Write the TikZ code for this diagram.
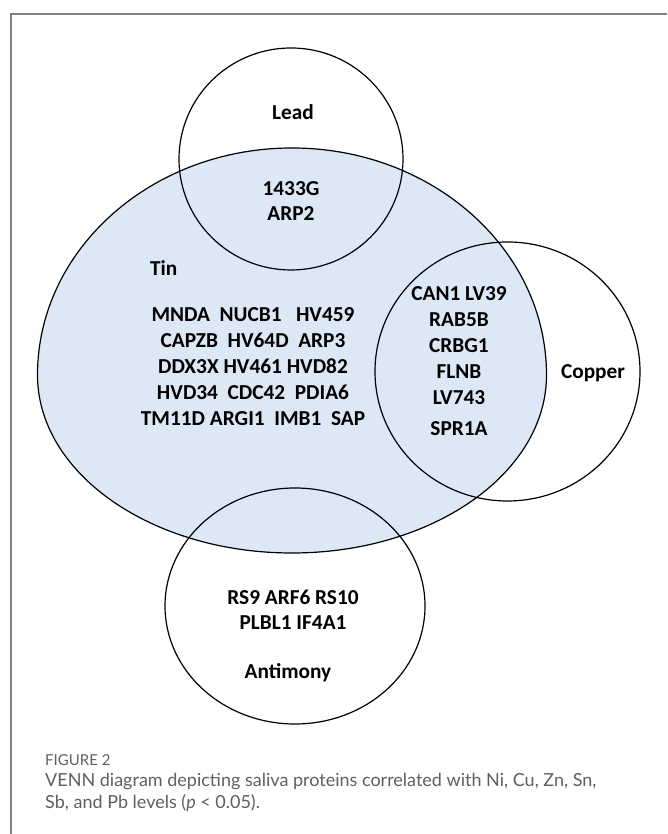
\documentclass[tikz,border=0pt]{standalone}
\usepackage{fontspec}
\setmainfont{Carlito}
\newfontfamily\capfont{Lato}
\usetikzlibrary{positioning}

\definecolor{tinblue}{RGB}{220,232,245}
\definecolor{framegray}{RGB}{130,130,130}
\definecolor{capgray}{RGB}{95,95,95}

\begin{document}
\begin{tikzpicture}[
        x=1pt, y=1pt,
        setline/.style={
            draw=black,
            line width=1.2pt
        },
        metal/.style={
            font=\fontsize{21.3}{25.8}\selectfont\bfseries,
            inner sep=0pt
        },
        protein/.style={
            metal,
            align=center
        },
        caption/.style={
            font=\capfont\fontsize{18}{22.5}\selectfont,
            text=capgray,
            inner sep=0pt,
            align=left
        }
    ]
    \useasboundingbox (0,0) rectangle (667,834);

    % frame
    \draw[framegray, line width=1.3pt] (11,0) -- (11,820) -- (667,820);

    % sets
    \fill[tinblue] (37.5,459)
        arc[start angle=180, end angle=0, x radius=254.5, y radius=227]
        arc[start angle=0, end angle=-180, x radius=254.5, y radius=178];
    \draw[setline] (37.5,459)
        arc[start angle=180, end angle=0, x radius=254.5, y radius=227]
        arc[start angle=0, end angle=-180, x radius=254.5, y radius=178];
    \draw[setline] (291,675) ellipse[x radius=112, y radius=111];
    \draw[setline] (507.5,462.5) ellipse[x radius=132.5, y radius=129.5];
    \draw[setline] (295,228) ellipse[x radius=130, y radius=118];

    % labels
    \node[metal] (lead) at (293,722) {Lead};
    \node[metal, anchor=west] (tin) at (150,566) {Tin};
    \node[metal] (copper) at (593,461) {Copper};
    \node[metal] (antimony) at (288,161) {Antimony};

    % members
    \node[protein] (leadtin) at (291,633) {1433G\\ARP2};
    \node[protein] (tinonly) at (253,467.5) {MNDA\ \ NUCB1\ \ \ HV459\\
        CAPZB\ \ HV64D\ \ ARP3\\
        DDX3X HV461 HVD82\\
        HVD34\ \ CDC42\ \ PDIA6\\
        TM11D ARGI1\ \ IMB1\ \ SAP};
    \node[protein] (tincopper) at (459,488.5) {CAN1 LV39\\RAB5B\\CRBG1\\FLNB\\LV743};
    \node[protein] (spr) at (459,405) {SPR1A};
    \node[protein, font=\fontsize{21.3}{25}\selectfont\bfseries] (tinsb) at (293,224.5) {RS9 ARF6 RS10\\PLBL1 IF4A1};

    % caption
    \node[caption, font=\capfont\fontsize{15}{18}\selectfont, anchor=west] (fig) at (45,74) {FIGURE 2};
    \node[caption, anchor=north west] (captext) at (45,61)
        {VENN diagram depicting saliva proteins correlated with Ni, Cu, Zn, Sn,\\
        Sb, and Pb levels (\textit{p} < 0.05).};
\end{tikzpicture}
\end{document}
